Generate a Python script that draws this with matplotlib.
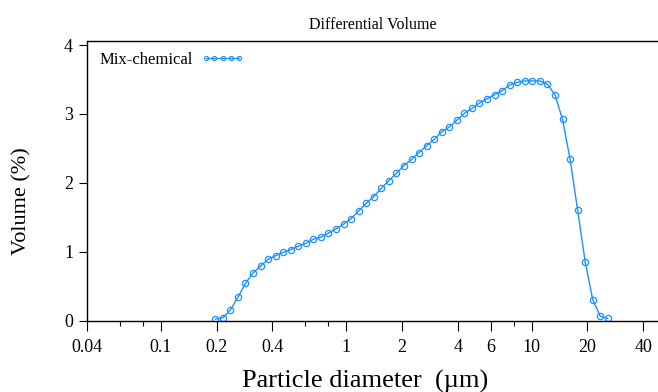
import matplotlib
matplotlib.use("Agg")
import matplotlib.pyplot as plt
from matplotlib.ticker import FixedLocator, NullFormatter

# channel diameters (um) and differential volume (%)
diameter = [0.197, 0.216, 0.237, 0.261, 0.286, 0.314, 0.345, 0.379, 0.416, 0.457,
            0.502, 0.551, 0.605, 0.665, 0.730, 0.802, 0.881, 0.967, 1.062, 1.167,
            1.281, 1.407, 1.546, 1.698, 1.865, 2.048, 2.249, 2.470, 2.713, 2.980,
            3.273, 3.595, 3.948, 4.336, 4.763, 5.231, 5.745, 6.310, 6.930, 7.612,
            8.360, 9.182, 10.08, 11.08, 12.16, 13.36, 14.67, 16.12, 17.70, 19.44,
            21.35, 23.45, 25.76]
volume = [0.02, 0.04, 0.15, 0.34, 0.54, 0.69, 0.79, 0.89, 0.94, 0.99,
          1.03, 1.08, 1.12, 1.18, 1.21, 1.27, 1.33, 1.40, 1.48, 1.59,
          1.70, 1.80, 1.92, 2.03, 2.14, 2.25, 2.34, 2.44, 2.54, 2.63,
          2.74, 2.81, 2.91, 3.01, 3.08, 3.16, 3.22, 3.28, 3.34, 3.42,
          3.46, 3.48, 3.48, 3.48, 3.43, 3.28, 2.92, 2.34, 1.60, 0.85,
          0.30, 0.06, 0.03]

x_major = [0.04, 0.1, 0.2, 0.4, 1, 2, 4, 6, 10, 20, 40]
x_labels = ["0.04", "0.1", "0.2", "0.4", "1", "2", "4", "6", "10", "20", "40"]
x_minor = [0.06, 0.08, 0.6, 0.8, 8]
y_major = [0, 1, 2, 3, 4]

plt.rcParams["font.family"] = ["Liberation Serif", "DejaVu Serif"]

fig = plt.figure(figsize=(6.58, 3.92), dpi=100)
ax = fig.add_axes([87 / 658, 71.5 / 392, 571 / 658, 279.5 / 392])

ax.plot(diameter, volume, color="#1e90ff", lw=1, marker="o", ms=4.5,
        mfc="none", mew=0.9, label="Mix-chemical")

ax.set_xscale("log")
ax.set_xlim(0.04, 48)
ax.set_ylim(0, 4.06)
ax.xaxis.set_major_locator(FixedLocator(x_major))
ax.set_xticklabels(x_labels)
ax.xaxis.set_minor_locator(FixedLocator(x_minor))
ax.xaxis.set_minor_formatter(NullFormatter())
ax.set_yticks(y_major)

ax.spines["right"].set_visible(False)
for s in ["left", "bottom", "top"]:
    ax.spines[s].set_linewidth(1)
ax.tick_params(axis="x", which="major", length=7.5, width=0.8, labelsize=13, pad=6)
ax.tick_params(axis="x", which="minor", length=3.5, width=0.8)
ax.tick_params(axis="y", length=6, width=0.8, labelsize=13, pad=4)

fig.text(373 / 658, 1 - 25 / 392, "Differential Volume", ha="center", va="center", fontsize=11.5)
fig.text(365 / 658, 1 - 381 / 392, "Particle diameter  (\u00b5m)", ha="center", va="center", fontsize=19)
fig.text(22 / 658, 1 - 201 / 392, "Volume (%)", ha="center", va="center", rotation=90, fontsize=16)

leg = ax.legend(loc="upper left", bbox_to_anchor=(13 / 571, (320.5 - 52) / 279.5),
                frameon=False, markerfirst=False, numpoints=5, handlelength=2.6,
                handletextpad=0.45, borderpad=0, borderaxespad=0, fontsize=12)
for h in leg.legend_handles:
    h.set_markersize(3)
    h.set_markeredgewidth(0.8)

fig.savefig("out.png", dpi=100)
